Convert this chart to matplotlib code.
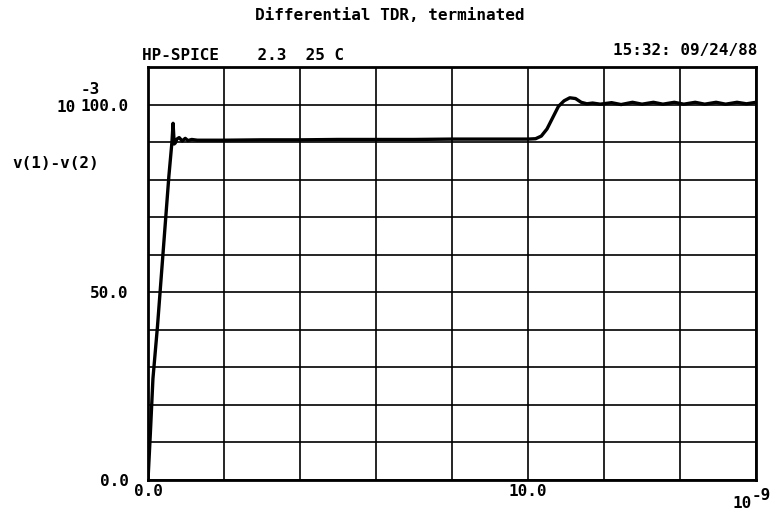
import matplotlib
matplotlib.use("Agg")
import matplotlib.pyplot as plt

# time in ns, voltage difference in mV (units 1e-9 s and 1e-3 V)
time_ns = [0.0, 0.03, 0.06, 0.13, 0.25, 0.40, 0.55, 0.63, 0.66, 0.69, 0.72,
           0.76, 0.82, 0.90, 0.98, 1.05, 1.15, 1.30, 1.50, 2.0, 3.0, 4.0,
           5.0, 6.0, 7.0, 8.0, 9.0, 10.0, 10.2, 10.35, 10.5, 10.65, 10.8,
           10.95, 11.1, 11.25, 11.4, 11.55, 11.7, 11.9, 12.2, 12.45, 12.75,
           13.0, 13.3, 13.55, 13.85, 14.1, 14.4, 14.65, 14.95, 15.2, 15.5,
           15.75, 16.0]
v_mV = [0.0, 6.0, 12.0, 27.0, 41.0, 61.0, 81.0, 90.0, 95.0, 89.5, 89.8,
        90.8, 91.2, 90.3, 91.0, 90.4, 90.7, 90.5, 90.5, 90.5, 90.6, 90.6,
        90.7, 90.7, 90.7, 90.8, 90.8, 90.8, 90.9, 91.6, 93.5, 96.5, 99.5,
        101.0, 101.8, 101.6, 100.6, 100.2, 100.4, 100.1, 100.5, 100.0, 100.6,
        100.1, 100.6, 100.1, 100.6, 100.1, 100.6, 100.1, 100.6, 100.1, 100.6,
        100.2, 100.6]

x_ticks = [0, 2, 4, 6, 8, 10, 12, 14, 16]
x_tick_labels = ["0.0", "", "", "", "", "10.0", "", "", ""]
y_ticks = [0, 10, 20, 30, 40, 50, 60, 70, 80, 90, 100, 110]
y_tick_labels = ["0.0", "", "", "", "", "50.0", "", "", "", "", "100.0", ""]

title = "Differential TDR, terminated"
header_left = "HP-SPICE    2.3  25 C"
header_right = "15:32: 09/24/88"
y_name = "v(1)-v(2)"

FONT = "DejaVu Sans Mono"
FS = 11.5

W, H = 777, 512
fig = plt.figure(figsize=(W / 100, H / 100), dpi=100)
ax = fig.add_axes([148 / W, 1 - 480 / H, (756 - 148) / W, (480 - 67) / H])

ax.plot(time_ns, v_mV, color="black", linewidth=2.4, solid_joinstyle="round")

ax.set_xlim(0, 16)
ax.set_ylim(0, 110)
ax.set_xticks(x_ticks)
ax.set_xticklabels(x_tick_labels, fontfamily=FONT, fontweight="bold", fontsize=FS)
ax.set_yticks(y_ticks)
ax.set_yticklabels(y_tick_labels, fontfamily=FONT, fontweight="bold", fontsize=FS)
ax.tick_params(axis="both", length=0)
ax.tick_params(axis="y", pad=14)
ax.tick_params(axis="x", pad=3)
ax.grid(True, color="black", linewidth=1.2, linestyle="-")
for s in ax.spines.values():
    s.set_linewidth(2.0)
    s.set_color("black")

def ftext(px, py, s, ha="left", va="center", size=FS):
    fig.text(px / W, 1 - py / H, s, ha=ha, va=va, fontfamily=FONT,
             fontweight="bold", fontsize=size, color="black")

ftext(390, 15, title, ha="center")
ftext(142, 56, header_left)
ftext(757, 50, header_right, ha="right")
ftext(12, 164, y_name)
ftext(76, 108, "10", ha="right")
ftext(81, 90, "-3", size=FS)
ftext(733, 504, "10")
ftext(752, 496, "-9", size=FS)

fig.savefig("out.png", dpi=100)
